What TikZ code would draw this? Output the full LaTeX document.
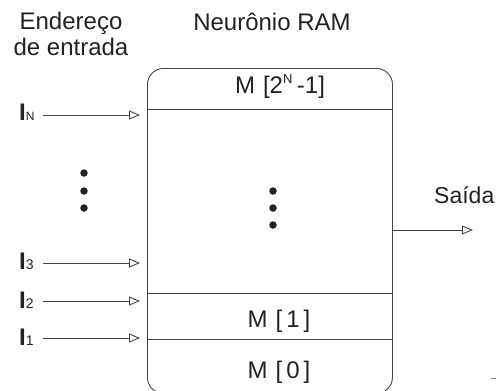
\documentclass[tikz,border=0pt]{standalone}
\usepackage{fontspec}
\setmainfont{Liberation Sans}
\usetikzlibrary{arrows.meta}
\definecolor{ink}{HTML}{222222}
\definecolor{wire}{HTML}{444444}
\begin{document}
\begin{tikzpicture}[x=1pt,y=-1pt,
  lbl/.style={inner sep=0pt, text=ink, font=\fontsize{24}{28}\selectfont},
  inlbl/.style={inner sep=0pt, text=ink, anchor=base west, font=\fontsize{24}{28}\selectfont},
  wireline/.style={draw=wire, line width=0.9pt},
  arr/.style={wireline, -{Triangle[open, length=11pt, width=9pt, line width=0.9pt]}},
  dot/.style={circle, fill=ink, inner sep=0pt, minimum size=7.5pt}]
\useasboundingbox (0,0) rectangle (496,391);

% column headings
\node[lbl, anchor=base] (addr1) at (71,29) {Endereço};
\node[lbl, anchor=base] (addr2) at (71,55) {de entrada};
\node[lbl, anchor=base] (title) at (272,30) {Neurônio RAM};

% RAM neuron body and its memory rows
\node[draw=wire, line width=0.9pt, rounded corners=16pt, minimum width=245pt,
      minimum height=325pt, anchor=north west, inner sep=0pt] (ram) at (147,68) {};
\draw[wireline] (ram.west |- 0,109) -- (ram.east |- 0,109);
\draw[wireline] (ram.west |- 0,293) -- (ram.east |- 0,293);
\draw[wireline] (ram.west |- 0,339) -- (ram.east |- 0,339);
\node[lbl, anchor=base] (mtop) at (280,93) {M\,\,[2\textsuperscript{\fontsize{13}{13}\selectfont N}\,-1]};
\node[lbl, anchor=base] (m1) at (279,327) {M\,\,[\,1\,]};
\node[lbl, anchor=base] (m0) at (279,378) {M\,\,[\,0\,]};

% vertical ellipsis inside the body and between the inputs
\node[dot] (c1) at (273,191) {};
\node[dot] (c2) at (273,208) {};
\node[dot] (c3) at (273,225) {};
\node[dot] (l1) at (84,173) {};
\node[dot] (l2) at (84,191) {};
\node[dot] (l3) at (84,208) {};

% address inputs
\node[inlbl] (iN) at (19,120) {\textbf{I}{\fontsize{12}{12}\selectfont N}};
\node[inlbl] (i3) at (19,269) {\textbf{I}{\fontsize{14}{14}\selectfont 3}};
\node[inlbl] (i2) at (19,308) {\textbf{I}{\fontsize{14}{14}\selectfont 2}};
\node[inlbl] (i1) at (19,345) {\textbf{I}{\fontsize{14}{14}\selectfont 1}};
\coordinate (tN) at (140,115);
\coordinate (t3) at (140,263);
\coordinate (t2) at (140,301);
\coordinate (t1) at (140,338);
\draw[arr] (43,0 |- tN) -- (tN);
\draw[arr] (43,0 |- t3) -- (t3);
\draw[arr] (43,0 |- t2) -- (t2);
\draw[arr] (43,0 |- t1) -- (t1);

% output
\node[lbl, anchor=base west, font=\fontsize{23}{27}\selectfont] (out) at (434,203) {Saída};
\coordinate (tOut) at (473,230);
\draw[arr] (ram.east |- tOut) -- (tOut);

\draw[draw=gray, line width=0.6pt] (491,378) -- (496,378);
\end{tikzpicture}
\end{document}
